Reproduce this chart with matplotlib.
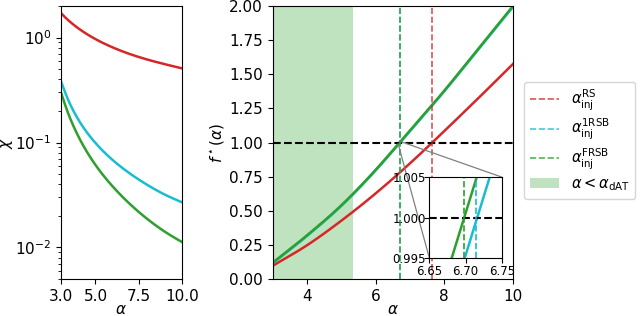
import matplotlib
matplotlib.use('Agg')
import matplotlib.pyplot as plt
import numpy as np
from mpl_toolkits.axes_grid1.inset_locator import mark_inset

# ---- left panel: chi(alpha), log scale ----
alpha_chi = [3.0, 3.5, 4.0, 4.5, 5.0, 6.0, 7.0, 8.0, 9.0, 10.0]
chi_rs = [1.71, 1.426, 1.227, 1.08, 0.967, 0.806, 0.696, 0.618, 0.559, 0.51]
chi_1rsb = [0.383, 0.2375, 0.166, 0.125, 0.099, 0.068, 0.0506, 0.0395, 0.032, 0.027]
chi_frsb = [0.30, 0.175, 0.115, 0.0816, 0.0611, 0.0381, 0.0259, 0.0187, 0.0142, 0.0113]

# ---- right panel: f*(alpha) ----
alpha_rs = [3.0, 4.0, 5.0, 6.0, 7.0, 7.65, 8.0, 9.0, 10.0]
f_rs = [0.097, 0.247, 0.427, 0.627, 0.847, 1.0, 1.084, 1.327, 1.575]
alpha_1rsb = [3.0, 4.0, 5.0, 6.0, 6.716, 7.0, 8.0, 9.0, 10.0]
f_1rsb = [0.115, 0.315, 0.535, 0.795, 1.0, 1.082, 1.375, 1.684, 1.993]
alpha_frsb = [3.0, 4.0, 5.0, 6.0, 6.698, 7.0, 8.0, 9.0, 10.0]
f_frsb = [0.12, 0.32, 0.54, 0.80, 1.0, 1.087, 1.38, 1.69, 2.0]

alpha_inj = {'RS': 7.65, '1RSB': 6.715, 'FRSB': 6.698}
alpha_dat = 5.33

c_rs, c_1rsb, c_frsb = 'tab:red', 'tab:cyan', 'tab:green'


def hermite(x, y, n=400):
    # smooth curve through the read points (cubic hermite, centred slopes)
    x = np.asarray(x, float)
    y = np.asarray(y, float)
    d = np.diff(y) / np.diff(x)
    m = np.empty_like(y)
    m[0], m[-1] = d[0], d[-1]
    m[1:-1] = (d[:-1] * np.diff(x)[1:] + d[1:] * np.diff(x)[:-1]) / (x[2:] - x[:-2])
    xs = np.linspace(x[0], x[-1], n)
    k = np.clip(np.searchsorted(x, xs) - 1, 0, len(x) - 2)
    h = x[k + 1] - x[k]
    t = (xs - x[k]) / h
    ys = ((2 * t**3 - 3 * t**2 + 1) * y[k] + (t**3 - 2 * t**2 + t) * h * m[k]
          + (-2 * t**3 + 3 * t**2) * y[k + 1] + (t**3 - t**2) * h * m[k + 1])
    return xs, ys


def smooth_loglog(x, y):
    xs, ly = hermite(np.log(x), np.log(y))
    return np.exp(xs), np.exp(ly)


fig = plt.figure(figsize=(6.4, 3.16), dpi=100)
ax1 = fig.add_axes([0.0953, 0.117, 0.1886, 0.864])
ax2 = fig.add_axes([0.426, 0.117, 0.3755, 0.864])

for ys, c in [(chi_rs, c_rs), (chi_1rsb, c_1rsb), (chi_frsb, c_frsb)]:
    xs, yy = smooth_loglog(alpha_chi, ys)
    ax1.plot(xs, yy, color=c, lw=1.8)
ax1.set_yscale('log')
ax1.set_xlim(3, 10)
ax1.set_ylim(0.005, 2.0)
ax1.set_xticks([3.0, 5.0, 7.5, 10.0])
ax1.set_xticklabels(['3.0', '5.0', '7.5', '10.0'])
ax1.set_xlabel(r'$\alpha$', fontsize=11, labelpad=-1)
ax1.set_ylabel(r'$\chi$', fontsize=11, labelpad=0)
ax1.tick_params(labelsize=11)

# right panel
ax2.axvspan(3, alpha_dat, color=c_frsb, alpha=0.3, lw=0, label=r'$\alpha < \alpha_{\rm dAT}$')
ax2.plot(*hermite(alpha_rs, f_rs), color=c_rs, lw=1.8)
ax2.plot(*hermite(alpha_1rsb, f_1rsb), color=c_1rsb, lw=1.8)
ax2.plot(*hermite(alpha_frsb, f_frsb), color=c_frsb, lw=1.8)
ax2.axhline(1.0, color='k', ls='--', lw=1.5)
ax2.axvline(alpha_inj['RS'], color=c_rs, ls='--', lw=1.2, alpha=0.8,
            label=r'$\alpha^{\rm RS}_{\rm inj}$')
ax2.axvline(alpha_inj['1RSB'], color=c_1rsb, ls='--', lw=1.2, alpha=0.8,
            label=r'$\alpha^{\rm 1RSB}_{\rm inj}$')
ax2.axvline(alpha_inj['FRSB'], color=c_frsb, ls='--', lw=1.2, alpha=0.8,
            label=r'$\alpha^{\rm FRSB}_{\rm inj}$')
ax2.set_xlim(3, 10)
ax2.set_ylim(0, 2)
ax2.set_xticks([4, 6, 8, 10])
ax2.set_yticks(np.arange(0, 2.01, 0.25))
ax2.set_yticklabels(['%.2f' % v for v in np.arange(0, 2.01, 0.25)])
ax2.set_xlabel(r'$\alpha$', fontsize=11, labelpad=-1)
ax2.set_ylabel(r'$f^\star(\alpha)$', fontsize=11, labelpad=2)
ax2.tick_params(labelsize=11)

# inset
axins = fig.add_axes([0.671, 0.1826, 0.113, 0.257])
axins.plot(*hermite(alpha_1rsb, f_1rsb), color=c_1rsb, lw=1.8)
axins.plot(*hermite(alpha_frsb, f_frsb), color=c_frsb, lw=1.8)
axins.axhline(1.0, color='k', ls='--', lw=1.5)
axins.axvline(alpha_inj['1RSB'], color=c_1rsb, ls='--', lw=1.2)
axins.axvline(alpha_inj['FRSB'], color=c_frsb, ls='--', lw=1.2)
axins.set_xlim(6.65, 6.75)
axins.set_ylim(0.995, 1.005)
axins.set_xticks([6.65, 6.70, 6.75])
axins.set_xticklabels(['6.65', '6.70', '6.75'])
axins.set_yticks([0.995, 1.0, 1.005])
axins.set_yticklabels(['0.995', '1.000', '1.005'])
axins.tick_params(labelsize=8.5, pad=1)
axins.tick_params(axis='y', pad=-1)
mark_inset(ax2, axins, loc1=1, loc2=3, fc='none', ec='0.5', lw=0.9)

handles, labels = ax2.get_legend_handles_labels()
order = [1, 2, 3, 0]
fig.legend([handles[i] for i in order], [labels[i] for i in order],
           loc='upper left', bbox_to_anchor=(524 / 640, 1 - 82 / 316),
           fontsize=10.5, handlelength=2.0, labelspacing=0.3, borderaxespad=0)

fig.savefig('out.png', dpi=100)
